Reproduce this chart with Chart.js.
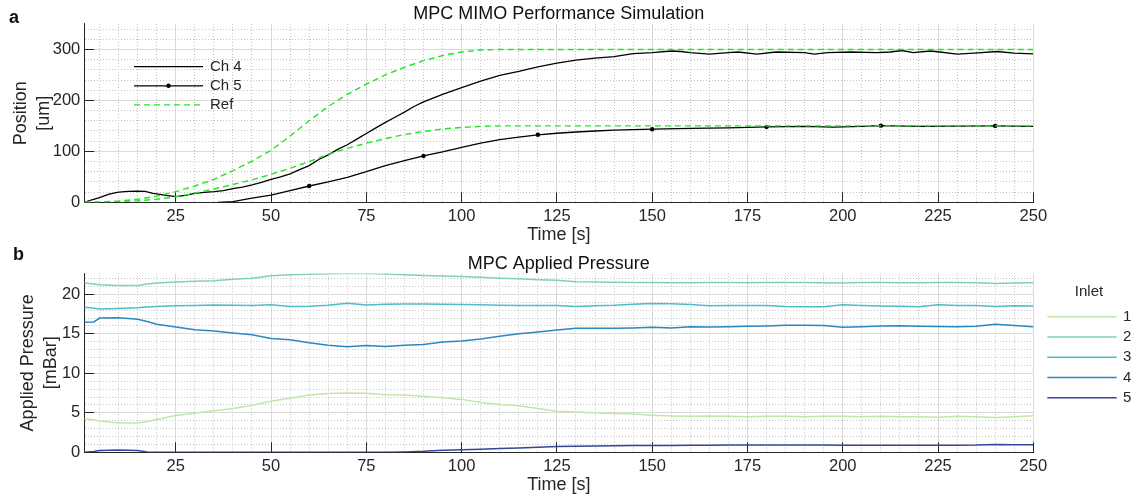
<!DOCTYPE html>
<html>
<head>
<meta charset="utf-8">
<title>MPC MIMO</title>
<script src="https://cdn.jsdelivr.net/npm/chart.js@4/dist/chart.umd.min.js"></script>
<style>
  html, body { margin: 0; padding: 0; background: #fff; }
  #wrap { position: relative; width: 1138px; height: 500px; overflow: hidden;
          font-family: 'Liberation Sans', Arial, Helvetica, sans-serif; }
  .panel { position: absolute; left: 0; width: 1138px; height: 250px; }
  .tag { position: absolute; font-weight: bold; font-size: 18px; line-height: 18px; color: #111; }
</style>
</head>
<body>
<div id="wrap">
  <div class="panel" style="top:0"><canvas id="posChart" width="1138" height="250"></canvas></div>
  <div class="panel" style="top:250px"><canvas id="presChart" width="1138" height="250"></canvas></div>
  <div class="tag" style="left:9px;top:8px">a</div>
  <div class="tag" style="left:13px;top:245px">b</div>
</div>
<script>
// ---------- Panel a: channel positions vs. reference ----------
const ch4Time = [1,3,5,7.5,10,12.5,15,17,19,20,22.5,25,27.5,30,32.5,35,37.5,40,42.5,45,47.5,50,52.5,55,57.5,60,62.5,65,67.5,70,72.5,75,77.5,80,82.5,85,87.5,90,95,100,105,110,115,120,125,130,135,140,145,150,155,157.5,160,165,170,172.5,177.5,182.5,190,192.5,196,202,209,212.5,215.5,218.5,223,225.5,230,234.5,240.5,245,250];
const ch4Pos  = [0,5,9,16,20,21.5,22,21.5,17.6,16.5,13.5,11,13.5,17.5,19.5,21,23,27,30,34,39,45,50,56,64,72,84,93,104,113,124,135,146,157,167,177,188,197,212,225,238,249,257,266,273,279,283,286,292,294,297,296,294,291,294,295,291,295,294,291,294,295,294,295,298,294,297,295,291,293,296,293,291.5];

const ch5Time = [36,40,45,50,55,60,65,70,75,80,85,90,95,100,105,110,115,120,125,130,135,140,145,150,160,170,180,190,197.5,205,210,220,230,240,250];
const ch5Pos  = [0,1.5,8,14,23,32,40,49,60,72,82,91,99,108,116,123,128,132.5,135.5,138,140,141.5,142.5,143.5,145,146,148,149,147.5,149,150.5,149,149.5,150,149];
const ch5MarkerTimes = [60,90,120,150,180,210,240];

const refTime = [1,5,10,15,20,25,30,35,40,45,50,55,60,65,70,75,80,85,90,95,100,105,110,115,250];
const refCh4  = [0,0.5,2.5,6,12,21,32,45,62,81,102,130,160,188,212,232,250,265,278,288,295,299,300,300,300];
const refCh5  = [0,0.3,1.3,3,6,11,18,26,35,44,55,67,80,94,106,116,125,133,139,144,147,149,150,150,150];

// ---------- Panel b: applied inlet pressures ----------
const pressureTime = [1,3.5,5,10,15,17.5,20,25,30,35,40,45,50,55,60,65,70,75,80,85,90,95,100,105,110,115,120,125,130,135,140,145,150,155,160,165,170,175,180,185,190,195,200,205,210,215,220,225,230,235,240,245,250];
const inlet1 = [4.26,4.13,3.95,3.71,3.71,3.9,4.15,4.65,4.95,5.25,5.55,5.95,6.45,6.85,7.25,7.45,7.5,7.47,7.3,7.25,7.1,6.9,6.7,6.3,6.05,5.9,5.55,5.2,5.1,5.0,4.92,4.85,4.7,4.6,4.55,4.6,4.55,4.5,4.55,4.55,4.5,4.55,4.55,4.5,4.55,4.5,4.5,4.45,4.55,4.5,4.4,4.5,4.62];
const inlet2 = [21.43,21.3,21.2,21.13,21.13,21.3,21.43,21.55,21.65,21.72,21.9,22.05,22.35,22.48,22.55,22.62,22.65,22.65,22.57,22.48,22.38,22.32,22.25,22.15,22.05,21.98,21.85,21.77,21.6,21.55,21.52,21.5,21.5,21.48,21.47,21.5,21.5,21.48,21.5,21.5,21.5,21.48,21.45,21.5,21.5,21.48,21.47,21.5,21.5,21.47,21.38,21.45,21.48];
const inlet3 = [18.35,18.25,18.15,18.2,18.3,18.4,18.45,18.56,18.6,18.64,18.62,18.58,18.69,18.45,18.48,18.62,18.86,18.64,18.75,18.77,18.77,18.75,18.72,18.68,18.62,18.6,18.6,18.6,18.45,18.56,18.62,18.75,18.85,18.8,18.7,18.56,18.58,18.6,18.58,18.45,18.43,18.43,18.68,18.6,18.52,18.48,18.43,18.69,18.6,18.58,18.45,18.55,18.52];
const inlet4 = [16.48,16.5,17.0,17.05,16.85,16.55,16.2,15.85,15.52,15.35,15.1,14.88,14.4,14.26,13.88,13.55,13.35,13.52,13.4,13.55,13.65,13.95,14.1,14.35,14.7,15.0,15.23,15.48,15.7,15.7,15.7,15.75,15.82,15.75,15.9,15.85,15.9,15.95,16.0,16.07,16.07,16.05,15.82,15.9,16.0,16.03,15.95,15.92,15.9,15.95,16.2,16.05,15.9];
const inlet5 = [0.02,0.1,0.22,0.28,0.22,0.05,0.02,0.02,0.02,0.02,0.02,0.02,0.02,0.02,0.02,0.02,0.02,0.02,0.02,0.05,0.12,0.25,0.33,0.4,0.48,0.55,0.65,0.72,0.76,0.8,0.83,0.85,0.86,0.86,0.88,0.9,0.92,0.92,0.92,0.93,0.93,0.92,0.88,0.9,0.9,0.9,0.9,0.9,0.9,0.92,1.0,0.97,0.97];
const inletNames = ['1','2','3','4','5'];
const inletColors = ['#c2e6a9','#7fd0bc','#4dbdca','#2e86c1','#34459e'];

// ---------- shared styling ----------
const FONT = "'Liberation Sans', Arial, Helvetica, sans-serif";
Chart.defaults.font.family = FONT;
Chart.defaults.color = '#262626';
const AXIS_COLOR = '#262626';
const GRID_MAJOR = '#dadada';
const GRID_MINOR = '#c4c4c4';

const isMajor = (v, step) => Math.abs(v / step - Math.round(v / step)) < 1e-6;
const pts = (xs, ys) => xs.map((x, i) => ({ x, y: ys[i] }));

function stepTicks(min, max, step) {
  const out = [];
  for (let v = Math.ceil(min / step - 1e-9) * step; v <= max + 1e-9; v += step) {
    out.push({ value: +v.toFixed(6) });
  }
  return out;
}

// Linear axis with solid major grid, dotted minor grid and labels on majors only
function axis({ min, max, minor, major, title, titlePad, size, labelPad }) {
  return {
    type: 'linear', min, max,
    afterBuildTicks: s => { s.ticks = stepTicks(min, max, minor); },
    afterFit: s => { if (size.width != null) s.width = size.width; if (size.height != null) s.height = size.height; },
    ticks: {
      autoSkip: false, maxRotation: 0, minRotation: 0, padding: labelPad,
      font: { size: 16.5 }, color: AXIS_COLOR,
      callback: v => isMajor(v, major) ? String(v) : ''
    },
    grid: {
      drawTicks: false, lineWidth: 1,
      color: c => (c.tick && isMajor(c.tick.value, major)) ? GRID_MAJOR : GRID_MINOR
    },
    border: {
      color: AXIS_COLOR, width: 1,
      dash: c => (c.tick && !isMajor(c.tick.value, major)) ? [1, 2] : []
    },
    title: { display: true, text: title, color: AXIS_COLOR,
             font: { size: 18, lineHeight: 1.28 }, padding: titlePad }
  };
}

// Center the chart title over the plotting area rather than the whole canvas
const titleOverPlot = {
  id: 'titleOverPlot',
  afterLayout(chart) {
    const t = chart.titleBlock;
    if (t) { t.left = chart.chartArea.left; t.right = chart.chartArea.right; }
  }
};

// Short tick marks pointing into the plot on the left and bottom axes
const inwardTicks = {
  id: 'inwardTicks',
  beforeDatasetsDraw(chart, args, o) {
    const { ctx, chartArea: a } = chart;
    ctx.save();
    ctx.strokeStyle = AXIS_COLOR;
    ctx.lineWidth = 1;
    ctx.beginPath();
    ['x', 'y'].forEach(id => {
      const s = chart.scales[id];
      s.ticks.forEach(t => {
        if (!isMajor(t.value, o[id])) return;
        const p = Math.round(s.getPixelForValue(t.value) - 0.5) + 0.5;
        if (id === 'x') { ctx.moveTo(p, a.bottom); ctx.lineTo(p, a.bottom - o.length); }
        else { ctx.moveTo(a.left, p); ctx.lineTo(a.left + o.length, p); }
      });
    });
    ctx.stroke();
    ctx.restore();
  }
};

// Line-sample legend drawn from the datasets themselves
const lineLegend = {
  id: 'lineLegend',
  afterDraw(chart, args, o) {
    const { ctx } = chart;
    ctx.save();
    ctx.font = o.fontSize + 'px ' + FONT;
    ctx.fillStyle = AXIS_COLOR;
    ctx.textBaseline = 'middle';
    if (o.title) {
      ctx.textAlign = 'center';
      ctx.fillText(o.title, o.titleX, o.titleY);
    }
    ctx.textAlign = 'left';
    let y = o.y;
    chart.data.datasets.forEach(ds => {
      if (ds.legendHidden) return;
      ctx.save();
      ctx.strokeStyle = ds.borderColor;
      ctx.lineWidth = ds.borderWidth;
      ctx.setLineDash(ds.borderDash || []);
      ctx.beginPath();
      ctx.moveTo(o.x0, y);
      ctx.lineTo(o.x1, y);
      ctx.stroke();
      if (ds.legendMarker) {
        ctx.fillStyle = ds.borderColor;
        ctx.beginPath();
        ctx.arc((o.x0 + o.x1) / 2, y, 2.2, 0, Math.PI * 2);
        ctx.fill();
      }
      ctx.restore();
      ctx.fillText(ds.label, o.textX, y);
      y += o.gap;
    });
    ctx.restore();
  }
};

const REF_GREEN = '#22e622';

new Chart(document.getElementById('posChart'), {
  type: 'line',
  data: {
    datasets: [
      { label: 'Ch 4', data: pts(ch4Time, ch4Pos), borderColor: '#000', borderWidth: 1.3,
        pointRadius: 0, order: 2 },
      { label: 'Ch 5', data: pts(ch5Time, ch5Pos), borderColor: '#000', borderWidth: 1.3,
        legendMarker: true, order: 2,
        pointRadius: c => (c.raw && ch5MarkerTimes.includes(c.raw.x)) ? 2.2 : 0,
        pointBackgroundColor: '#000', pointBorderWidth: 0 },
      { label: 'Ref', data: pts(refTime, refCh4), borderColor: REF_GREEN, borderWidth: 1.4,
        borderDash: [6, 4], pointRadius: 0, order: 1 },
      { label: 'Ref', data: pts(refTime, refCh5), borderColor: REF_GREEN, borderWidth: 1.4,
        borderDash: [6, 4], pointRadius: 0, order: 1, legendHidden: true }
    ]
  },
  options: {
    responsive: false, animation: false, devicePixelRatio: 1, events: [],
    parsing: false, normalized: true,
    layout: { padding: { left: 0, right: 104.7, top: 0, bottom: 0 } },
    scales: {
      x: axis({ min: 1, max: 250, minor: 5, major: 25, title: 'Time [s]',
                titlePad: { top: 0, bottom: 3.5 }, size: { height: 47.7 }, labelPad: 4 }),
      y: axis({ min: 0, max: 350, minor: 20, major: 100, title: ['Position', '[um]'],
                titlePad: { top: 9.5, bottom: 0 }, size: { width: 84.3 }, labelPad: 4 })
    },
    plugins: {
      legend: { display: false },
      tooltip: { enabled: false },
      title: { display: true, text: 'MPC MIMO Performance Simulation', color: '#111',
               font: { size: 18, weight: 'normal', lineHeight: 1.2 },
               padding: { top: 3.4, bottom: -1 } },
      inwardTicks: { length: 10, x: 25, y: 100 },
      lineLegend: { fontSize: 15, x0: 134, x1: 203, textX: 210, y: 66.7, gap: 19.1 }
    }
  },
  plugins: [titleOverPlot, inwardTicks, lineLegend]
});

new Chart(document.getElementById('presChart'), {
  type: 'line',
  data: {
    datasets: [inlet1, inlet2, inlet3, inlet4, inlet5].map((vals, i) => ({
      label: inletNames[i],
      data: pts(pressureTime, vals),
      borderColor: inletColors[i],
      borderWidth: 1.5,
      pointRadius: 0,
      order: 5 - i
    }))
  },
  options: {
    responsive: false, animation: false, devicePixelRatio: 1, events: [],
    parsing: false, normalized: true,
    layout: { padding: { left: 0, right: 104.7, top: 0, bottom: 0 } },
    scales: {
      x: axis({ min: 1, max: 250, minor: 5, major: 25, title: 'Time [s]',
                titlePad: { top: 0, bottom: 3.5 }, size: { height: 47.7 }, labelPad: 4 }),
      y: axis({ min: 0, max: 22.65, minor: 1, major: 5, title: ['Applied Pressure', '[mBar]'],
                titlePad: { top: 16.8, bottom: 0 }, size: { width: 84.3 }, labelPad: 4 })
    },
    plugins: {
      legend: { display: false },
      tooltip: { enabled: false },
      title: { display: true, text: 'MPC Applied Pressure', color: '#111',
               font: { size: 18, weight: 'normal', lineHeight: 1.2 },
               padding: { top: 2.8, bottom: -1 } },
      inwardTicks: { length: 10, x: 25, y: 5 },
      lineLegend: { fontSize: 15, x0: 1047.3, x1: 1116.7, textX: 1123, y: 66.7, gap: 20.25,
                    title: 'Inlet', titleX: 1089, titleY: 41.7 }
    }
  },
  plugins: [titleOverPlot, inwardTicks, lineLegend]
});
</script>
</body>
</html>
